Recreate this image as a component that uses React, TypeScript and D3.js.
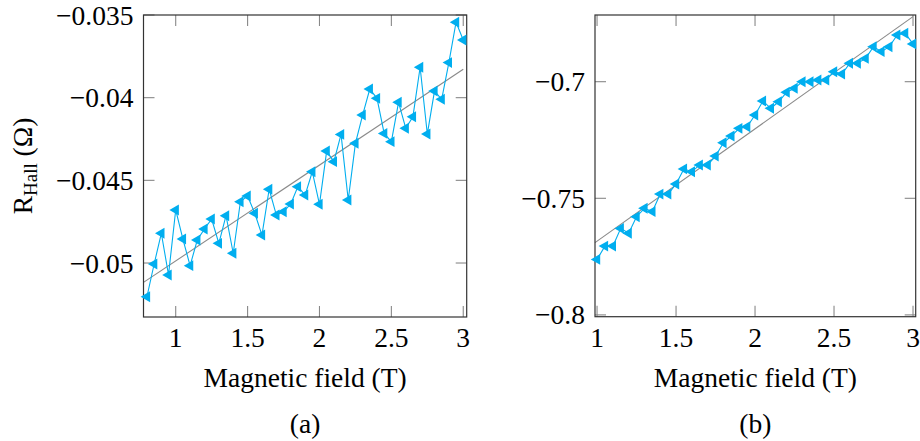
import React from "react";
import * as d3 from "d3";

// ---- Panel (a) data ----
const xA = [0.8, 0.85, 0.9, 0.95, 1.0, 1.05, 1.1, 1.15, 1.2, 1.25, 1.3, 1.35, 1.4, 1.45, 1.5, 1.55, 1.6, 1.65, 1.7, 1.75, 1.8, 1.85, 1.9, 1.95, 2.0, 2.05, 2.1, 2.15, 2.2, 2.25, 2.3, 2.35, 2.4, 2.45, 2.5, 2.55, 2.6, 2.65, 2.7, 2.75, 2.8, 2.85, 2.9, 2.95, 3.0];
const yA = [-0.05204, -0.05006, -0.0482, -0.05072, -0.04679, -0.04855, -0.05016, -0.04861, -0.04794, -0.04734, -0.04881, -0.04714, -0.04941, -0.04629, -0.04595, -0.04699, -0.04831, -0.04554, -0.0471, -0.0469, -0.04643, -0.04538, -0.04589, -0.04448, -0.04645, -0.04323, -0.04387, -0.04222, -0.04619, -0.04276, -0.04105, -0.03948, -0.04004, -0.04216, -0.04266, -0.04028, -0.04185, -0.04115, -0.03816, -0.0422, -0.0396, -0.0401, -0.03788, -0.03544, -0.03651];
const fitA = { slope: 0.005796, intercept: -0.05567 };
const xTicksA = [1, 1.5, 2, 2.5, 3];
const xTickLabelsA = ["1", "1.5", "2", "2.5", "3"];
const yTicksA = [-0.05, -0.045, -0.04, -0.035];
const yTickLabelsA = ["\u22120.05", "\u22120.045", "\u22120.04", "\u22120.035"];

// ---- Panel (b) data ----
const xB = [1.0, 1.05, 1.1, 1.15, 1.2, 1.25, 1.3, 1.35, 1.4, 1.45, 1.5, 1.55, 1.6, 1.65, 1.7, 1.75, 1.8, 1.85, 1.9, 1.95, 2.0, 2.05, 2.1, 2.15, 2.2, 2.25, 2.3, 2.35, 2.4, 2.45, 2.5, 2.55, 2.6, 2.65, 2.7, 2.75, 2.8, 2.85, 2.9, 2.95, 3.0];
const yB = [-0.7762, -0.7705, -0.7705, -0.7629, -0.765, -0.7579, -0.7543, -0.7557, -0.7482, -0.7482, -0.7439, -0.7374, -0.7386, -0.7357, -0.7357, -0.7319, -0.7262, -0.7233, -0.72, -0.7193, -0.7143, -0.7083, -0.7114, -0.7086, -0.7045, -0.7028, -0.7, -0.7, -0.6993, -0.6993, -0.6957, -0.6967, -0.6921, -0.6921, -0.69, -0.685, -0.6871, -0.685, -0.68, -0.6792, -0.6838];
const fitB = { slope: 0.04814, intercept: -0.8165 };
const xTicksB = [1, 1.5, 2, 2.5, 3];
const xTickLabelsB = ["1", "1.5", "2", "2.5", "3"];
const yTicksB = [-0.8, -0.75, -0.7];
const yTickLabelsB = ["\u22120.8", "\u22120.75", "\u22120.7"];

const xTitle = "Magnetic field (T)";
const DATA_COLOR = "#00AEEF";
const FONT = "'Liberation Serif', 'Times New Roman', serif";
const FS = 27.5;

type PanelProps = {
  xs: number[];
  ys: number[];
  fit: { slope: number; intercept: number };
  xDomain: [number, number];
  yDomain: [number, number];
  left: number;
  right: number;
  top: number;
  bottom: number;
  xTicks: number[];
  xTickLabels: string[];
  yTicks: number[];
  yTickLabels: string[];
  caption: string;
  fitFrom: number;
  fitTo: number;
};

function Panel(p: PanelProps) {
  const x = d3.scaleLinear().domain(p.xDomain).range([p.left, p.right]);
  const y = d3.scaleLinear().domain(p.yDomain).range([p.bottom, p.top]);
  const pts = p.xs.map((v, i) => [v, p.ys[i]] as [number, number]);
  const line = d3
    .line<[number, number]>()
    .x((d) => x(d[0]))
    .y((d) => y(d[1]));
  const fitPts: [number, number][] = [
    [p.fitFrom, p.fit.intercept + p.fit.slope * p.fitFrom],
    [p.fitTo, p.fit.intercept + p.fit.slope * p.fitTo],
  ];
  const r = 6.3;
  const tri = `M${-r},0L${r / 2},${-r * 0.866}L${r / 2},${r * 0.866}Z`;
  const tl = 11;
  const cx = (p.left + p.right) / 2;
  return (
    <g>
      <defs>
        <clipPath id={"clip" + p.caption}>
          <rect x={p.left} y={p.top} width={p.right - p.left} height={p.bottom - p.top} />
        </clipPath>
      </defs>
      {p.xTicks.map((t, i) => (
        <g key={"xt" + i}>
          <line x1={x(t)} x2={x(t)} y1={p.bottom} y2={p.bottom - tl} stroke="#888" strokeWidth={1.1} />
          <line x1={x(t)} x2={x(t)} y1={p.top} y2={p.top + tl} stroke="#888" strokeWidth={1.1} />
          <text x={x(t)} y={p.bottom + 30} textAnchor="middle" fontFamily={FONT} fontSize={FS} fill="#000">
            {p.xTickLabels[i]}
          </text>
        </g>
      ))}
      {p.yTicks.map((t, i) => (
        <g key={"yt" + i}>
          <line x1={p.left} x2={p.left + tl} y1={y(t)} y2={y(t)} stroke="#888" strokeWidth={1.1} />
          <line x1={p.right} x2={p.right - tl} y1={y(t)} y2={y(t)} stroke="#888" strokeWidth={1.1} />
          <text x={p.left - 10} y={y(t) + 9.5} textAnchor="end" fontFamily={FONT} fontSize={FS} fill="#000">
            {p.yTickLabels[i]}
          </text>
        </g>
      ))}
      <g clipPath={`url(#clip${p.caption})`}>
        <path d={line(fitPts) || ""} fill="none" stroke="#8a8a8a" strokeWidth={1.1} />
        <path d={line(pts) || ""} fill="none" stroke={DATA_COLOR} strokeWidth={1.1} />
      </g>
      <rect x={p.left} y={p.top} width={p.right - p.left} height={p.bottom - p.top} fill="none" stroke="#333" strokeWidth={1.2} />
      {pts.map((d, i) => (
        <path key={"m" + i} d={tri} transform={`translate(${x(d[0])},${y(d[1])})`} fill={DATA_COLOR} />
      ))}
      <text x={cx} y={p.bottom + 70} textAnchor="middle" fontFamily={FONT} fontSize={FS} fill="#000">
        {xTitle}
      </text>
      <text x={cx} y={p.bottom + 116} textAnchor="middle" fontFamily={FONT} fontSize={FS} fill="#000">
        {p.caption}
      </text>
    </g>
  );
}

export default function App() {
  return (
    <svg width={920} height={441} style={{ position: "absolute", left: 0, top: 0, background: "#fff" }}>
      <rect width={920} height={441} fill="#fff" />
      <Panel
        xs={xA}
        ys={yA}
        fit={fitA}
        xDomain={[0.776, 3.024]}
        yDomain={[-0.053265, -0.035]}
        left={143.5}
        right={466.7}
        top={15}
        bottom={317}
        xTicks={xTicksA}
        xTickLabels={xTickLabelsA}
        yTicks={yTicksA}
        yTickLabels={yTickLabelsA}
        caption="(a)"
        fitFrom={0.776}
        fitTo={3.0}
      />
      <Panel
        xs={xB}
        ys={yB}
        fit={fitB}
        xDomain={[0.987, 3.017]}
        yDomain={[-0.80077, -0.6714]}
        left={595}
        right={915.7}
        top={15}
        bottom={316.7}
        xTicks={xTicksB}
        xTickLabels={xTickLabelsB}
        yTicks={yTicksB}
        yTickLabels={yTickLabelsB}
        caption="(b)"
        fitFrom={0.987}
        fitTo={3.0}
      />
      <text
        transform="translate(32,166) rotate(-90)"
        textAnchor="middle"
        fontFamily={FONT}
        fontSize={FS}
        fill="#000"
      >
        R
        <tspan fontSize={19} dy={5}>Hall</tspan>
        <tspan dy={-5}> (Ω)</tspan>
      </text>
    </svg>
  );
}
